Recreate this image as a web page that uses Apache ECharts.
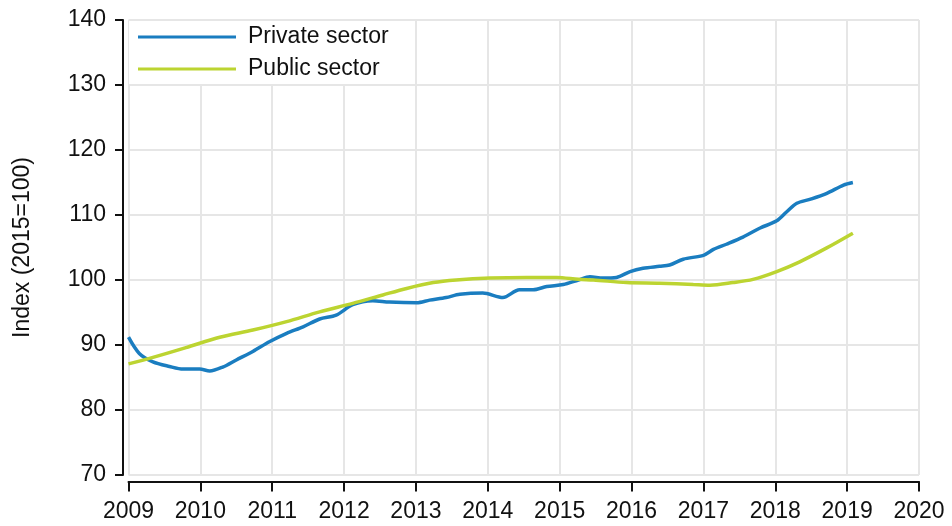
<!DOCTYPE html>
<html>
<head>
<meta charset="utf-8">
<script src="https://cdn.jsdelivr.net/npm/echarts@6/dist/echarts.min.js"></script>
<style>
  html, body { margin: 0; padding: 0; background: #fff; }
  #chart { width: 952px; height: 526px; }
</style>
</head>
<body>
<div id="chart"></div>
<script>
// Data (decimal years, index 2015=100)
const privateYears = [2009.00, 2009.15, 2009.34, 2009.57, 2009.76, 2009.99, 2010.13, 2010.31, 2010.50, 2010.73,
  2010.96, 2011.20, 2011.43, 2011.66, 2011.89, 2012.12, 2012.40, 2012.63, 2013.01, 2013.19,
  2013.42, 2013.61, 2013.93, 2014.21, 2014.44, 2014.63, 2014.82, 2015.05, 2015.26, 2015.42,
  2015.60, 2015.79, 2015.98, 2016.16, 2016.39, 2016.53, 2016.72, 2017.00, 2017.14, 2017.32,
  2017.55, 2017.79, 2018.02, 2018.16, 2018.30, 2018.48, 2018.71, 2018.95, 2019.08];
const privateValues = [91.2, 88.7, 87.4, 86.7, 86.3, 86.3, 86.0, 86.6, 87.7, 89.0,
  90.5, 91.8, 92.8, 94.0, 94.6, 96.2, 96.8, 96.6, 96.5, 96.9,
  97.3, 97.8, 98.0, 97.3, 98.5, 98.5, 99.0, 99.3, 100.0, 100.5,
  100.3, 100.4, 101.3, 101.8, 102.1, 102.3, 103.2, 103.8, 104.7, 105.5,
  106.6, 108.0, 109.1, 110.5, 111.8, 112.4, 113.3, 114.6, 115.0];

const publicYears = [2009.00, 2009.34, 2009.80, 2010.27, 2010.73, 2011.20, 2011.66, 2012.12, 2012.54, 2012.87,
  2013.24, 2013.56, 2014.03, 2014.54, 2014.96, 2015.26, 2015.47, 2015.93, 2016.39, 2016.86,
  2017.09, 2017.41, 2017.69, 2018.02, 2018.34, 2018.71, 2019.08];
const publicValues = [87.1, 88.1, 89.6, 91.2, 92.3, 93.6, 95.1, 96.4, 97.7, 98.7,
  99.6, 100.0, 100.3, 100.4, 100.4, 100.1, 100.0, 99.6, 99.5, 99.3,
  99.2, 99.6, 100.1, 101.3, 102.8, 104.9, 107.2];

const seriesNames = ['Private sector', 'Public sector'];
const seriesColors = ['#1a7dc0', '#bcd431'];

const font = 'Arial, "Liberation Sans", sans-serif';
const textColor = '#111';

const chart = echarts.init(document.getElementById('chart'));

chart.setOption({
  animation: false,
  grid: { left: 128.5, right: 33, top: 20, bottom: 51 },
  legend: {
    orient: 'vertical',
    left: 129,
    top: 21,
    padding: [3, 18, 2, 9],
    backgroundColor: '#fff',
    itemWidth: 98,
    itemHeight: 3,
    itemGap: 6,
    icon: 'rect',
    data: seriesNames,
    textStyle: { fontFamily: font, fontSize: 23, color: textColor, lineHeight: 26, padding: [0, 0, 0, 7] }
  },
  xAxis: {
    type: 'value',
    min: 2009,
    max: 2020,
    interval: 1,
    offset: 6.5,
    axisLine: { show: true, lineStyle: { color: '#111', width: 2 } },
    axisTick: { show: true, length: 10, lineStyle: { color: '#111', width: 2 } },
    axisLabel: { fontFamily: font, fontSize: 23, color: textColor, margin: 19, formatter: v => String(v) },
    splitLine: { show: true, lineStyle: { color: '#e6e6e6', width: 2 } }
  },
  yAxis: {
    type: 'value',
    min: 70,
    max: 140,
    interval: 10,
    offset: 5.5,
    name: 'Index (2015=100)',
    nameLocation: 'middle',
    nameGap: 89,
    nameTextStyle: { fontFamily: font, fontSize: 23, color: textColor },
    axisLine: { show: true, lineStyle: { color: '#111', width: 2 } },
    axisTick: { show: true, length: 8, lineStyle: { color: '#111', width: 2 } },
    axisLabel: { fontFamily: font, fontSize: 23, color: textColor, margin: 17 },
    splitLine: { show: true, lineStyle: { color: '#e6e6e6', width: 2 } }
  },
  series: [
    {
      name: seriesNames[0],
      type: 'line',
      data: privateYears.map((x, i) => [x, privateValues[i]]),
      smooth: 0.3,
      showSymbol: false,
      lineStyle: { width: 3.5, color: seriesColors[0] },
      itemStyle: { color: seriesColors[0] }
    },
    {
      name: seriesNames[1],
      type: 'line',
      data: publicYears.map((x, i) => [x, publicValues[i]]),
      smooth: 0.3,
      showSymbol: false,
      lineStyle: { width: 3.5, color: seriesColors[1] },
      itemStyle: { color: seriesColors[1] }
    }
  ]
});
</script>
</body>
</html>
